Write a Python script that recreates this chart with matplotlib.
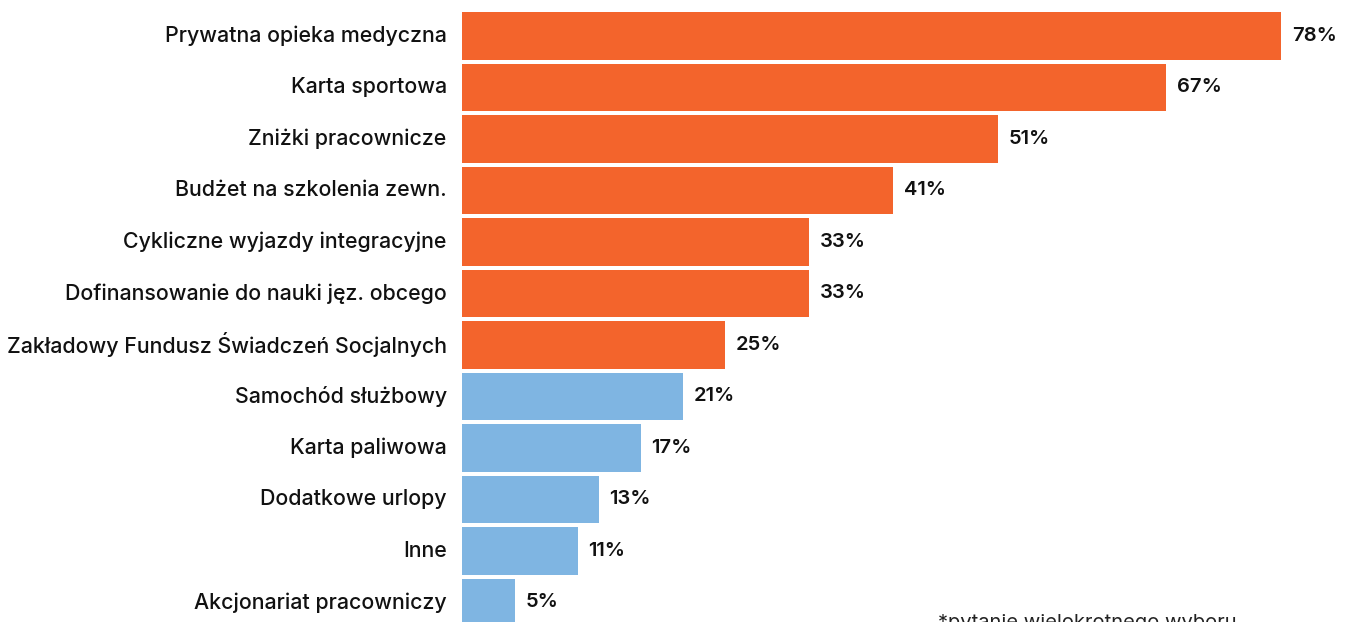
import matplotlib.pyplot as plt

# data
labels = ["Prywatna opieka medyczna", "Karta sportowa", "Zniżki pracownicze",
          "Budżet na szkolenia zewn.", "Cykliczne wyjazdy integracyjne",
          "Dofinansowanie do nauki jęz. obcego",
          "Zakładowy Fundusz Świadczeń Socjalnych", "Samochód służbowy",
          "Karta paliwowa", "Dodatkowe urlopy", "Inne", "Akcjonariat pracowniczy"]
values = [78, 67, 51, 41, 33, 33, 25, 21, 17, 13, 11, 5]
highlight = [True] * 7 + [False] * 5
footnote = "*pytanie wielokrotnego wyboru"

ORANGE = "#F3642C"
BLUE = "#7FB5E2"

plt.rcParams['font.family'] = ['Inter', 'DejaVu Sans']

W, H = 1349, 622
fig = plt.figure(figsize=(W / 100, H / 100), dpi=100)
ax = fig.add_axes([462 / W, 0, 1 - 462 / W, 1])

colors = [ORANGE if h else BLUE for h in highlight]
ypos = list(range(len(values)))
ax.barh(ypos, values, height=0.93, color=colors)

ax.set_xlim(0, (W - 462) / 10.5)
ax.set_ylim((H - 36) / 51.5, -36 / 51.5)
ax.axis("off")

for y, v, lab in zip(ypos, values, labels):
    ax.text(v + 1.05, y, "{}%".format(v), va="center", ha="left",
            fontsize=14.5, fontweight="semibold", color="#111111")
    ax.annotate(lab, xy=(0, y), xytext=(-11, 0), textcoords="offset points",
                va="center", ha="right", fontsize=15.4, fontweight="medium",
                color="#111111")

fig.text(938 / W, -6 / H, footnote, fontsize=14.5, color="#222222",
         ha="left", va="baseline")

fig.savefig("out.png", dpi=100)
